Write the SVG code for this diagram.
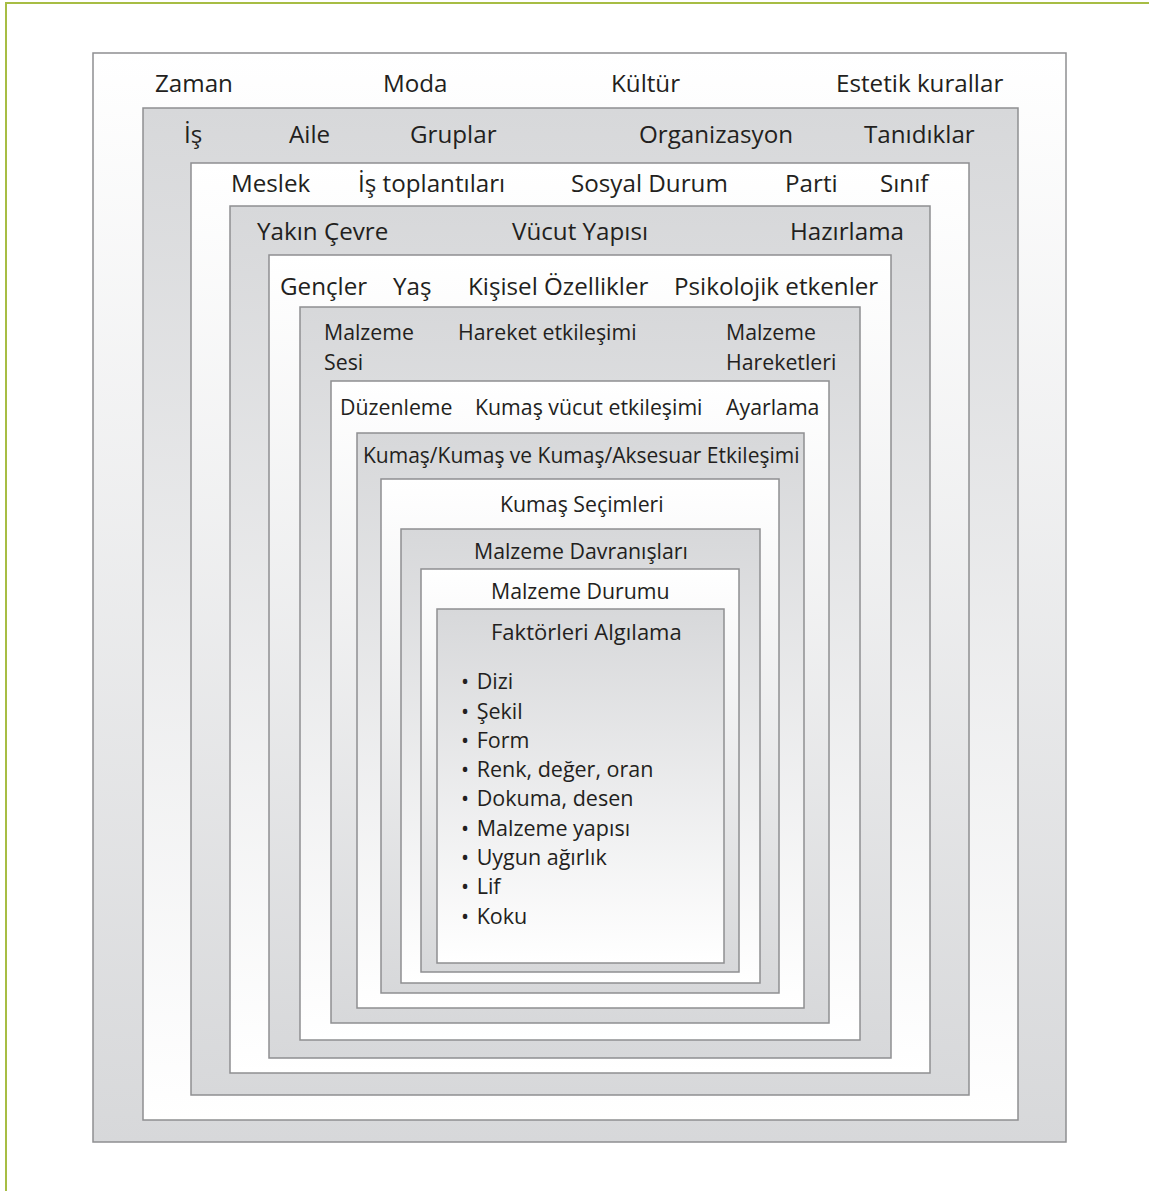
<svg xmlns="http://www.w3.org/2000/svg" width="1149" height="1191" viewBox="0 0 1149 1191">
  <defs>
    <!-- white bands fade to grey towards the bottom, grey bands fade to white -->
    <linearGradient id="fadeWhite" x1="0" y1="0" x2="0" y2="1">
      <stop offset="0" stop-color="#ffffff"/>
      <stop offset="1" stop-color="#d7d8da"/>
    </linearGradient>
    <linearGradient id="fadeGrey" x1="0" y1="0" x2="0" y2="1">
      <stop offset="0" stop-color="#d7d8da"/>
      <stop offset="1" stop-color="#ffffff"/>
    </linearGradient>
  </defs>
  <style>
    .frame { fill: none; stroke: #a7bd44; stroke-width: 2; }
    .w { fill: url(#fadeWhite); stroke: #8e8f91; stroke-width: 1.5; }
    .g { fill: url(#fadeGrey); stroke: #8e8f91; stroke-width: 1.5; }
    text { font-family: "Open Sans", "Noto Sans", "DejaVu Sans", sans-serif; font-size: 24.2px; fill: #231f20; }
    .s { font-size: 21.3px; }
    .k { font-size: 21px; }
    .h { font-size: 22px; }
    .li { font-size: 21.5px; }
  </style>

  <rect width="1149" height="1191" fill="#ffffff"/>
  <rect class="frame" x="6" y="3" width="1200" height="1250"/>

  <g id="layer-culture">
    <rect class="w" x="93" y="53" width="973" height="1089"/>
    <text x="155" y="92">Zaman</text>
    <text x="383" y="92">Moda</text>
    <text x="611" y="92">Kültür</text>
    <text x="836" y="92">Estetik kurallar</text>
  </g>

  <g id="layer-groups">
    <rect class="g" x="143" y="108" width="875" height="1012"/>
    <text x="184" y="143">İş</text>
    <text x="289" y="143">Aile</text>
    <text x="410" y="143">Gruplar</text>
    <text x="639" y="143">Organizasyon</text>
    <text x="864" y="143">Tanıdıklar</text>
  </g>

  <g id="layer-status">
    <rect class="w" x="191" y="163" width="778" height="932"/>
    <text x="231" y="192">Meslek</text>
    <text x="358" y="192">İş toplantıları</text>
    <text x="571" y="192">Sosyal Durum</text>
    <text x="785" y="192">Parti</text>
    <text x="880" y="192">Sınıf</text>
  </g>

  <g id="layer-surroundings">
    <rect class="g" x="230" y="206" width="700" height="867"/>
    <text x="257" y="240">Yakın Çevre</text>
    <text x="512" y="240">Vücut Yapısı</text>
    <text x="790" y="240">Hazırlama</text>
  </g>

  <g id="layer-person">
    <rect class="w" x="269" y="255" width="622" height="803"/>
    <text x="280" y="295">Gençler</text>
    <text x="393" y="295">Yaş</text>
    <text x="468" y="295">Kişisel Özellikler</text>
    <text x="674" y="295">Psikolojik etkenler</text>
  </g>

  <g id="layer-motion">
    <rect class="g" x="300" y="307" width="560" height="733"/>
    <text class="s" x="324" y="340">Malzeme</text>
    <text class="s" x="324" y="370">Sesi</text>
    <text class="s" x="458" y="340">Hareket etkileşimi</text>
    <text class="s" x="726" y="340">Malzeme</text>
    <text class="s" x="726" y="370">Hareketleri</text>
  </g>

  <g id="layer-fit">
    <rect class="w" x="331" y="381" width="498" height="642"/>
    <text class="s" x="340" y="415">Düzenleme</text>
    <text class="s" x="475" y="415">Kumaş vücut etkileşimi</text>
    <text class="s" x="726" y="415">Ayarlama</text>
  </g>

  <g id="layer-interaction">
    <rect class="g" x="357" y="433" width="447" height="575"/>
    <text class="k" x="363" y="463">Kumaş/Kumaş ve Kumaş/Aksesuar Etkileşimi</text>
  </g>

  <g id="layer-fabric">
    <rect class="w" x="381" y="479" width="398" height="514"/>
    <text class="s" x="500" y="512">Kumaş Seçimleri</text>
  </g>

  <g id="layer-behaviour">
    <rect class="g" x="401" y="529" width="359" height="454"/>
    <text class="s" x="474" y="559">Malzeme Davranışları</text>
  </g>

  <g id="layer-condition">
    <rect class="w" x="421" y="569" width="318" height="403"/>
    <text class="s" x="491" y="599">Malzeme Durumu</text>
  </g>

  <g id="layer-perception">
    <rect class="g" x="437" y="609" width="287" height="354"/>
    <text class="h" x="491" y="640">Faktörleri Algılama</text>
    <g class="items">
      <text class="li" x="461" y="689">•<tspan dx="2"> Dizi</tspan></text>
      <text class="li" x="461" y="718.5">•<tspan dx="2"> Şekil</tspan></text>
      <text class="li" x="461" y="748">•<tspan dx="2"> Form</tspan></text>
      <text class="li" x="461" y="777">•<tspan dx="2"> Renk, değer, oran</tspan></text>
      <text class="li" x="461" y="806">•<tspan dx="2"> Dokuma, desen</tspan></text>
      <text class="li" x="461" y="836">•<tspan dx="2"> Malzeme yapısı</tspan></text>
      <text class="li" x="461" y="865">•<tspan dx="2"> Uygun ağırlık</tspan></text>
      <text class="li" x="461" y="894">•<tspan dx="2"> Lif</tspan></text>
      <text class="li" x="461" y="924">•<tspan dx="2"> Koku</tspan></text>
    </g>
  </g>
</svg>
